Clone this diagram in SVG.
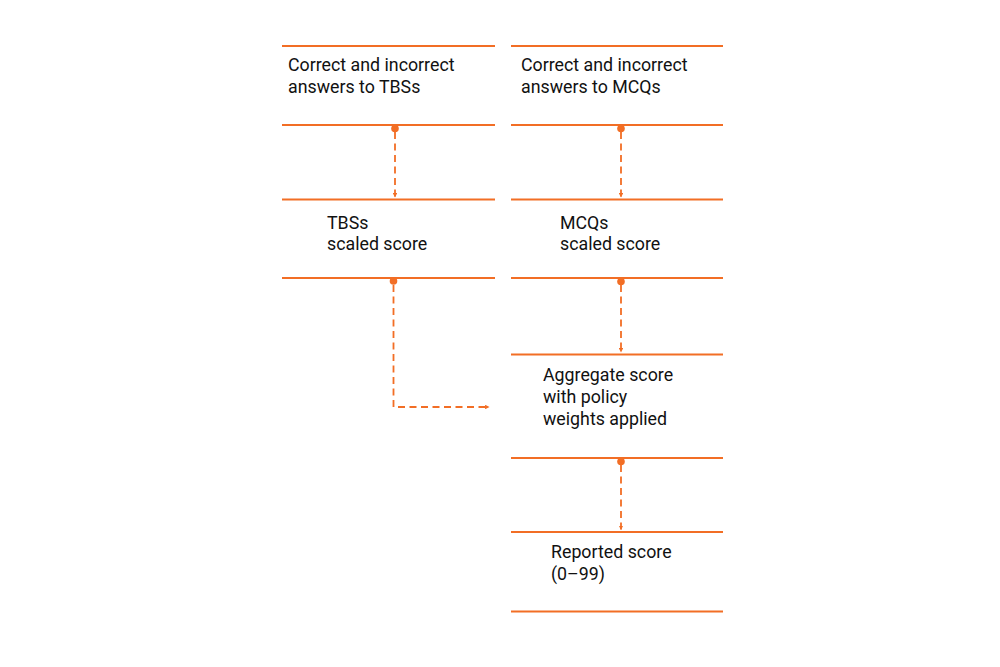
<svg xmlns="http://www.w3.org/2000/svg" width="1000" height="667" viewBox="0 0 1000 667">
<style>
.bar{stroke:#F26E25;stroke-width:2;fill:none}
.lbl{font-family:Roboto,"Liberation Sans",sans-serif;font-size:17.8px;fill:#111}
.con{stroke:#F26E25;stroke-width:1.8;fill:none;stroke-dasharray:7,4.5}
.dot{fill:#F26E25}
</style>
<defs>
<marker id="ah" viewBox="0 0 8 8" refX="7" refY="4" markerWidth="4.5" markerHeight="4.5" markerUnits="userSpaceOnUse" orient="auto">
<path d="M0,0 L8,4 L0,8 Z" fill="#F26E25"/>
</marker>
</defs>
<rect width="1000" height="667" fill="#fff"/>
<g id="node-tbs-answers">
<line class="bar" x1="282" y1="46" x2="495" y2="46"/>
<line class="bar" x1="282" y1="125" x2="495" y2="125"/>
<text class="lbl" x="288" y="70.5">Correct and incorrect</text>
<text class="lbl" x="288" y="92.5">answers to TBSs</text>
</g>
<g id="node-mcq-answers">
<line class="bar" x1="511" y1="46" x2="723" y2="46"/>
<line class="bar" x1="511" y1="125" x2="723" y2="125"/>
<text class="lbl" x="521" y="70.5">Correct and incorrect</text>
<text class="lbl" x="521" y="92.5">answers to MCQs</text>
</g>
<g id="node-tbs-scaled">
<line class="bar" x1="282" y1="199.5" x2="495" y2="199.5"/>
<line class="bar" x1="282" y1="278" x2="495" y2="278"/>
<text class="lbl" x="327" y="228.5">TBSs</text>
<text class="lbl" x="327" y="250">scaled score</text>
</g>
<g id="node-mcq-scaled">
<line class="bar" x1="511" y1="199.5" x2="723" y2="199.5"/>
<line class="bar" x1="511" y1="278" x2="723" y2="278"/>
<text class="lbl" x="560" y="228.5">MCQs</text>
<text class="lbl" x="560" y="250">scaled score</text>
</g>
<g id="node-aggregate">
<line class="bar" x1="511" y1="354.5" x2="723" y2="354.5"/>
<line class="bar" x1="511" y1="458" x2="723" y2="458"/>
<text class="lbl" x="543" y="381">Aggregate score</text>
<text class="lbl" x="543" y="403">with policy</text>
<text class="lbl" x="543" y="425">weights applied</text>
</g>
<g id="node-reported">
<line class="bar" x1="511" y1="532" x2="723" y2="532"/>
<line class="bar" x1="511" y1="611.5" x2="723" y2="611.5"/>
<text class="lbl" x="551" y="558">Reported score</text>
<text class="lbl" x="551" y="580">(0–99)</text>
</g>
<g id="connectors">
<circle class="dot" cx="395" cy="128.5" r="3.8"/>
<path class="con" d="M395,132 V197" marker-end="url(#ah)"/>
<circle class="dot" cx="621" cy="128.5" r="3.8"/>
<path class="con" d="M621,132 V197" marker-end="url(#ah)"/>
<circle class="dot" cx="393.5" cy="281" r="3.8"/>
<path class="con" d="M393.5,285 V407 H489" marker-end="url(#ah)"/>
<circle class="dot" cx="621" cy="281.5" r="3.8"/>
<path class="con" d="M621,285 V352" marker-end="url(#ah)"/>
<circle class="dot" cx="621" cy="461.5" r="3.8"/>
<path class="con" d="M621,465 V529.5" marker-end="url(#ah)"/>
</g>
</svg>
